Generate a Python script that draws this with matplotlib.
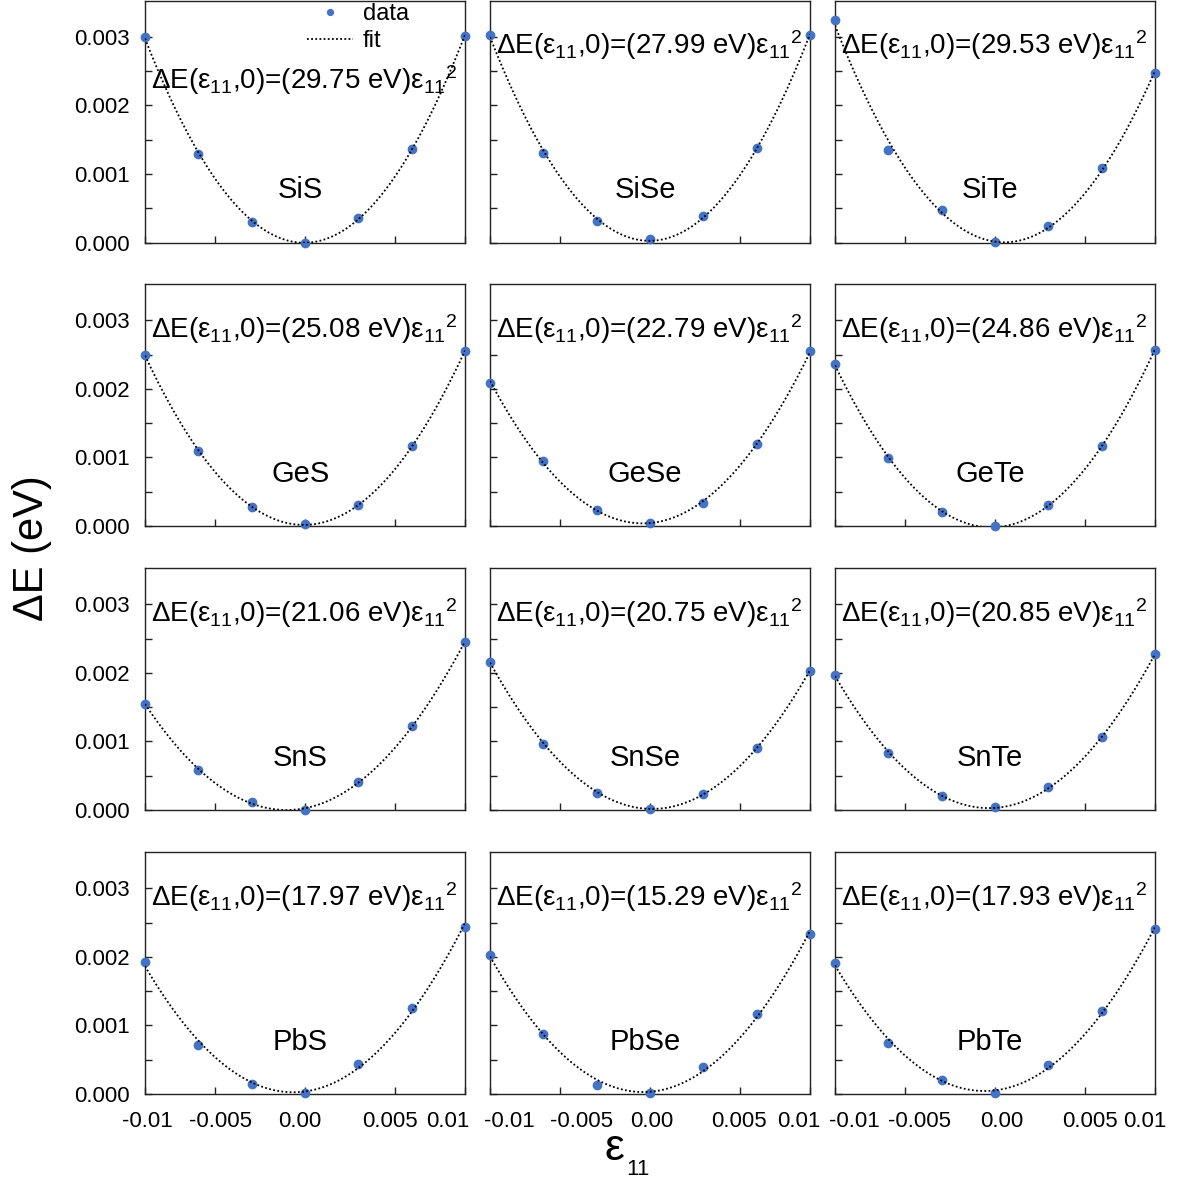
import numpy as np
import matplotlib
matplotlib.use('Agg')
import matplotlib.pyplot as plt
from matplotlib.transforms import ScaledTranslation

plt.rcParams['font.family'] = ['Liberation Sans', 'DejaVu Sans']
plt.rcParams['mathtext.fontset'] = 'custom'
plt.rcParams['mathtext.rm'] = 'Liberation Sans'
plt.rcParams['mathtext.it'] = 'Liberation Sans:italic'
plt.rcParams['mathtext.bf'] = 'Liberation Sans:bold'

# ---------------- data ----------------
materials = ['SiS', 'SiSe', 'SiTe', 'GeS', 'GeSe', 'GeTe',
             'SnS', 'SnSe', 'SnTe', 'PbS', 'PbSe', 'PbTe']
coefficients = ['29.75', '27.99', '29.53', '25.08', '22.79', '24.86',
                '21.06', '20.75', '20.85', '17.97', '15.29', '17.93']
strain = [-0.01, -0.00667, -0.00333, 0.0, 0.00333, 0.00667, 0.01]

dE_SiS = [0.00300, 0.00129, 0.00030, 0.00000, 0.00036, 0.00137, 0.00301]
dE_SiSe = [0.00303, 0.00131, 0.00031, 0.00005, 0.00039, 0.00138, 0.00302]
dE_SiTe = [0.00324, 0.00135, 0.00048, 0.00001, 0.00024, 0.00108, 0.00247]
dE_GeS = [0.00250, 0.00109, 0.00027, 0.00003, 0.00031, 0.00116, 0.00255]
dE_GeSe = [0.00209, 0.00095, 0.00024, 0.00004, 0.00034, 0.00119, 0.00255]
dE_GeTe = [0.00236, 0.00099, 0.00020, 0.00000, 0.00030, 0.00117, 0.00257]
dE_SnS = [0.00155, 0.00059, 0.00011, 0.00000, 0.00041, 0.00122, 0.00245]
dE_SnSe = [0.00216, 0.00097, 0.00025, 0.00002, 0.00024, 0.00091, 0.00203]
dE_SnTe = [0.00197, 0.00083, 0.00020, 0.00004, 0.00033, 0.00106, 0.00227]
dE_PbS = [0.00192, 0.00071, 0.00015, 0.00001, 0.00044, 0.00125, 0.00244]
dE_PbSe = [0.00203, 0.00088, 0.00013, 0.00002, 0.00039, 0.00117, 0.00233]
dE_PbTe = [0.00191, 0.00075, 0.00021, 0.00001, 0.00042, 0.00121, 0.00240]
series = [dE_SiS, dE_SiSe, dE_SiTe, dE_GeS, dE_GeSe, dE_GeTe,
          dE_SnS, dE_SnSe, dE_SnTe, dE_PbS, dE_PbSe, dE_PbTe]

xtick_vals = [-0.01, -0.0056, 0.0, 0.0056, 0.01]
xtick_labels = ['-0.01', '-0.005', '0.00', '0.005', '0.01']
ytick_vals = [0.0, 0.0005, 0.001, 0.0015, 0.002, 0.0025, 0.003]
ytick_labels = ['0.000', '', '0.001', '', '0.002', '', '0.003']

# ---------------- layout ----------------
W, H = 1186, 1182
fig = plt.figure(figsize=(W / 100, H / 100), dpi=100)
col_left = [145, 490, 835]
row_top = [0.5, 284, 568, 852]
pw, ph = 320, 242
# pixel shifts of x tick labels per column (to mimic original placement)
label_shift = [[2, 5, -5, -5, -17], [19, 21, 2, -1, -11], [19, 14, 7, 5, -10]]

blue = '#4472C4'
for i, (name, coef, dE) in enumerate(zip(materials, coefficients, series)):
    r, c = divmod(i, 3)
    ax = fig.add_axes([col_left[c] / W, 1 - (row_top[r] + ph) / H, pw / W, ph / H])
    ax.plot(strain, dE, 'o', color=blue, ms=6, mec=blue, clip_on=False,
            zorder=3, label='data')
    p = np.polyfit(strain, dE, 2)
    xf = np.linspace(-0.01, 0.01, 300)
    ax.plot(xf, np.polyval(p, xf), color='black', lw=1.3,
            linestyle=(0, (1, 1.3)), zorder=4, label='fit')
    ax.set_xlim(-0.01, 0.01)
    ax.set_ylim(0, 0.00353)
    for s in ax.spines.values():
        s.set_linewidth(1.0)
        s.set_color('#222222')
    ax.set_xticks(xtick_vals)
    ax.set_yticks(ytick_vals)
    ax.tick_params(axis='both', direction='in', length=5, width=1.0,
                   color='#222222', labelsize=16)
    ax.tick_params(axis='y', pad=11)
    ax.tick_params(axis='x', pad=12)
    if c == 0:
        ax.set_yticklabels(ytick_labels)
    else:
        ax.set_yticklabels([])
    if r == 3:
        ax.set_xticklabels(xtick_labels)
        for lab, dx in zip(ax.get_xticklabels(), label_shift[c]):
            lab.set_transform(lab.get_transform() +
                              ScaledTranslation(dx / 100, 0, fig.dpi_scale_trans))
    else:
        ax.set_xticklabels([])

    ann_y = 0.636 if i == 0 else 0.777
    ax.text(0.02, ann_y,
            'ΔE(ε$_{11}$,0)=(' + coef + ' eV)ε$_{11}$$^{2}$',
            transform=ax.transAxes, fontsize=20, ha='left', va='baseline')
    ax.text(0.485, 0.215, name, transform=ax.transAxes, fontsize=21,
            ha='center', va='center')
    if i == 0:
        ax.legend(loc='upper left', bbox_to_anchor=(0.505, 0.99), frameon=False,
                  fontsize=17, handlelength=1.95, handletextpad=0.42,
                  labelspacing=0.22, borderpad=0, borderaxespad=0,
                  markerscale=0.7, numpoints=1)

fig.text(32 / W, 1 - 548 / H, 'ΔE (eV)', rotation=90, fontsize=30,
         ha='center', va='center')
fig.text(614 / W, 1 - 1160 / H, 'ε', fontsize=32, ha='center', va='baseline')
fig.text(626 / W, 1 - 1175 / H, '11', fontsize=16, ha='left', va='baseline')

fig.savefig('out.png', dpi=100)
